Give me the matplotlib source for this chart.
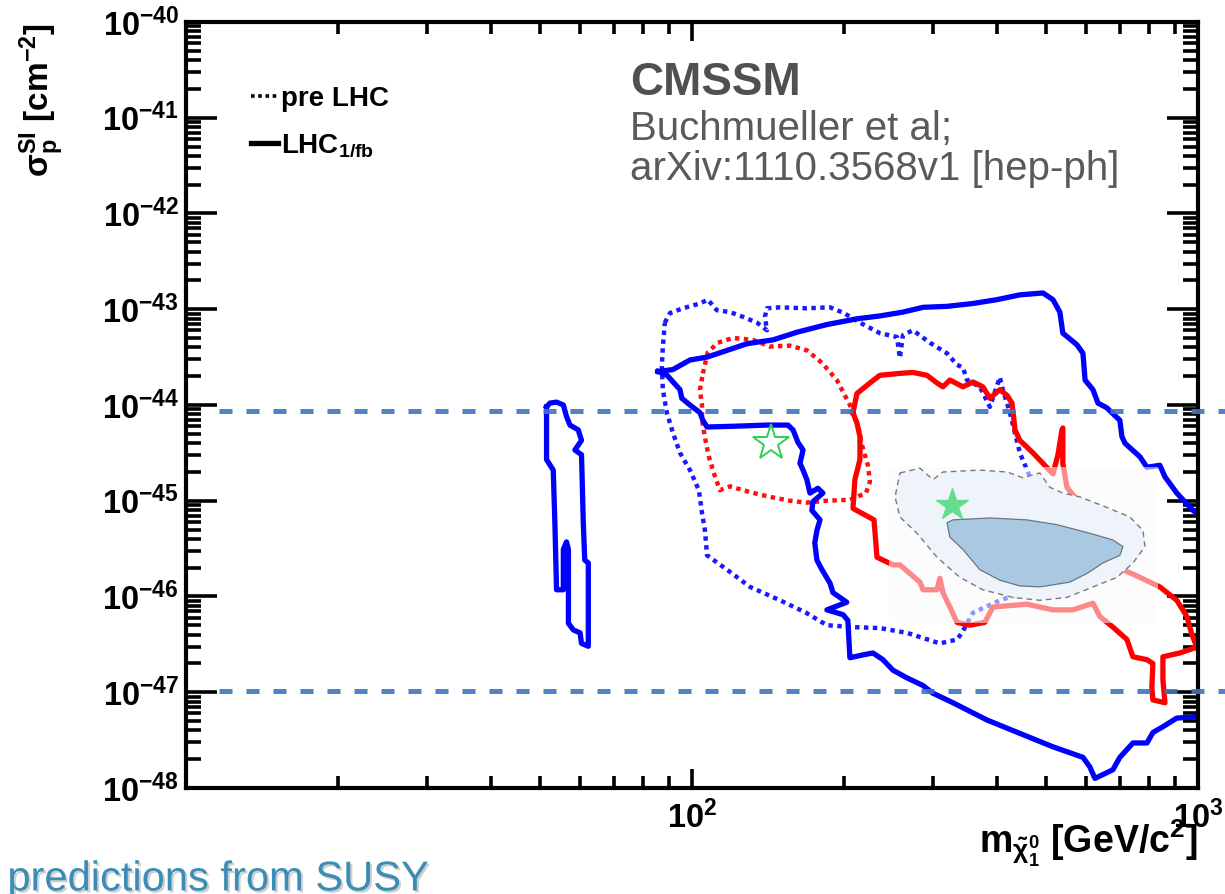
import numpy as np
import matplotlib
matplotlib.use('Agg')
import matplotlib.pyplot as plt
import matplotlib.patheffects as pe
from matplotlib.lines import Line2D
from matplotlib.ticker import LogLocator, NullFormatter, FixedLocator


plt.rcParams['font.family'] = 'Liberation Sans'
plt.rcParams['mathtext.fontset'] = 'custom'
plt.rcParams['mathtext.rm'] = 'Liberation Sans'
plt.rcParams['mathtext.it'] = 'Liberation Sans:italic'
plt.rcParams['mathtext.bf'] = 'Liberation Sans:bold'
plt.rcParams['mathtext.default'] = 'bf'

# contours: (neutralino mass [GeV], log10 sigma_SI [cm^2])
LHC_BLUE = [
    (85.7, -43.65), (91.7, -43.63), (99.1, -43.53), (107.1, -43.50), (117.3, -43.43),
    (128.5, -43.36), (144.6, -43.32), (161.3, -43.24), (184.8, -43.16), (211.8, -43.10),
    (235.2, -43.07), (261.2, -43.03), (286.2, -42.98), (319.2, -42.97), (359.2, -42.94),
    (400.6, -42.90), (444.7, -42.85), (494.0, -42.83), (517.0, -42.90), (533.5, -43.03),
    (540.8, -43.25), (576.4, -43.37), (592.6, -43.46), (598.4, -43.74), (620.2, -43.84),
    (634.5, -43.98), (660.7, -44.03), (701.0, -44.16), (707.6, -44.33), (717.5, -44.40),
    (767.8, -44.54), (792.7, -44.65), (840.9, -44.63), (860.7, -44.75), (908.3, -44.92),
    (977.2, -45.10), (1100.0, -45.31), (1100.0, -47.21), (977.0, -47.26), (908.0, -47.27),
    (853.0, -47.36), (815.0, -47.42), (793.0, -47.53), (744.0, -47.53), (701.0, -47.68),
    (679.0, -47.81), (625.8, -47.90), (611.5, -47.78), (592.6, -47.68), (517.0, -47.57),
    (444.7, -47.43), (382.9, -47.29), (328.0, -47.11), (299.3, -47.01), (286.2, -46.93),
    (266.0, -46.85), (249.6, -46.77), (238.5, -46.66), (227.9, -46.59), (217.8, -46.61),
    (205.2, -46.64), (203.3, -46.25), (198.9, -46.19), (184.8, -46.14), (202.3, -46.06),
    (190.0, -45.96), (187.4, -45.86), (180.7, -45.72), (176.6, -45.62), (174.9, -45.44),
    (176.6, -45.31), (179.1, -45.20), (172.6, -45.10), (173.4, -45.01), (181.5, -44.92),
    (177.4, -44.87), (171.1, -44.92), (168.7, -44.78), (165.8, -44.68), (163.5, -44.61),
    (165.8, -44.47), (162.0, -44.39), (158.4, -44.26), (154.8, -44.21), (140.7, -44.21),
    (124.4, -44.22), (107.1, -44.23), (105.1, -44.16), (103.7, -44.08), (99.1, -44.00),
    (95.5, -43.93), (94.7, -43.84), (89.3, -43.69),
]

LHC_BLUE_LIGHT = [
    (51.6, -44.02), (51.6, -44.57), (53.2, -44.68), (53.6, -45.24), (54.0, -45.93),
    (55.7, -45.93), (55.7, -45.51), (56.5, -45.43), (57.0, -45.51), (57.0, -46.28),
    (58.3, -46.35), (60.1, -46.38), (60.5, -46.49), (62.4, -46.52), (62.4, -45.65),
    (61.4, -45.62), (61.0, -45.24), (60.5, -44.52), (58.7, -44.47), (60.5, -44.37),
    (59.6, -44.26), (57.4, -44.21), (56.5, -44.12), (55.7, -44.00), (54.0, -43.97),
    (52.4, -43.98),
]

PRE_LHC_BLUE = [
    (88.4, -43.14), (90.5, -43.04), (96.0, -42.99), (103.7, -42.94), (107.5, -42.90),
    (112.0, -43.01), (118.9, -43.03), (126.2, -43.08), (134.4, -43.14), (140.7, -43.22),
    (139.4, -43.08), (140.7, -42.99), (149.3, -42.98), (168.1, -42.99), (187.4, -42.98),
    (199.7, -43.04), (214.8, -43.14), (235.2, -43.25), (254.2, -43.29), (257.6, -43.51),
    (261.2, -43.27), (273.4, -43.22), (295.3, -43.35), (319.2, -43.46), (334.0, -43.58),
    (343.3, -43.61), (349.6, -43.74), (370.7, -43.81), (388.0, -44.02), (406.0, -43.71),
    (411.6, -43.84), (425.0, -44.08), (444.7, -44.50), (465.4, -44.75), (487.0, -44.99),
    (509.8, -45.20), (526.3, -45.41), (533.5, -45.62), (533.5, -45.80), (503.0, -45.90),
    (459.2, -45.95), (406.0, -46.04), (359.2, -46.17), (341.7, -46.38), (334.0, -46.45),
    (309.0, -46.49), (266.0, -46.38), (235.2, -46.33), (208.1, -46.32), (184.8, -46.30),
    (168.1, -46.17), (149.3, -46.04), (130.2, -45.90), (117.3, -45.72), (107.1, -45.57),
    (106.1, -45.31), (104.7, -45.13), (103.2, -44.89), (99.1, -44.68), (94.7, -44.50),
    (91.7, -44.29), (89.2, -44.08), (87.6, -43.84), (87.2, -43.60), (87.6, -43.39),
]

PRE_LHC_RED = [
    (105.1, -43.67), (107.5, -43.45), (112.5, -43.35), (120.5, -43.30), (132.0, -43.32),
    (142.6, -43.39), (156.2, -43.38), (168.8, -43.43), (180.7, -43.56), (193.4, -43.74),
    (205.2, -44.00), (212.8, -44.21), (216.8, -44.42), (222.7, -44.63), (224.8, -44.80),
    (220.8, -44.92), (205.2, -44.99), (184.8, -45.00), (168.1, -45.02), (156.2, -45.00),
    (142.6, -44.96), (130.2, -44.91), (118.9, -44.85), (113.6, -44.89), (111.1, -44.75),
    (108.0, -44.54), (106.1, -44.34), (104.7, -44.16), (104.7, -44.00), (103.7, -43.84),
]

LHC_RED = [
    (208.1, -44.08), (211.9, -43.88), (224.8, -43.77), (235.2, -43.69), (257.6, -43.67),
    (273.4, -43.66), (291.4, -43.69), (305.0, -43.77), (313.4, -43.81), (323.4, -43.74),
    (343.3, -43.81), (359.2, -43.76), (375.8, -43.81), (388.0, -43.93), (406.0, -43.84),
    (419.5, -43.90), (429.1, -43.98), (435.0, -44.26), (444.7, -44.37), (472.0, -44.50),
    (494.0, -44.61), (517.0, -44.72), (528.9, -44.52), (538.6, -44.26), (540.8, -44.24),
    (540.8, -44.61), (551.0, -44.86), (576.8, -44.99), (603.5, -45.15), (631.6, -45.34),
    (649.0, -45.51), (669.8, -45.65), (711.0, -45.72), (767.8, -45.80), (840.9, -45.90),
    (908.3, -46.04), (951.2, -46.21), (973.2, -46.40), (995.4, -46.53), (921.1, -46.59),
    (852.7, -46.63), (852.7, -46.87), (860.7, -47.11), (814.7, -47.08), (810.9, -46.95),
    (814.7, -46.70), (793.0, -46.66), (743.9, -46.63), (724.0, -46.45), (679.2, -46.32),
    (640.0, -46.21), (620.2, -46.07), (566.2, -46.14), (517.0, -46.14), (459.2, -46.08),
    (393.5, -46.11), (379.3, -46.27), (354.2, -46.30), (334.0, -46.27), (323.4, -46.11),
    (313.4, -45.96), (309.0, -45.81), (305.0, -45.93), (286.2, -45.93), (282.2, -45.85),
    (257.6, -45.67), (249.6, -45.67), (232.1, -45.59), (229.0, -45.20), (208.1, -45.08),
    (209.9, -44.78), (214.8, -44.57), (214.8, -44.33), (211.9, -44.19),
]

# inset fit regions (95% and 68%)
INSET_95 = [
    (257.6, -44.71), (282.2, -44.66), (299.5, -44.78), (313.4, -44.70), (370.7, -44.68),
    (419.5, -44.70), (451.0, -44.76), (487.0, -44.71), (509.8, -44.86), (540.8, -44.92),
    (584.3, -44.96), (661.0, -45.07), (733.6, -45.17), (778.6, -45.31), (785.8, -45.48),
    (743.9, -45.65), (691.9, -45.80), (620.2, -45.90), (551.0, -46.01), (487.0, -46.04),
    (430.9, -46.01), (375.8, -45.93), (338.4, -45.80), (305.0, -45.59), (278.5, -45.34),
    (257.6, -45.17), (252.0, -44.96),
]

INSET_68 = [
    (319.2, -45.23), (328.0, -45.20), (388.0, -45.18), (459.2, -45.20), (526.3, -45.25),
    (611.5, -45.34), (679.2, -45.41), (711.0, -45.48), (701.0, -45.57), (649.0, -45.65),
    (603.5, -45.76), (558.3, -45.85), (487.0, -45.90), (444.7, -45.89), (406.0, -45.83),
    (370.7, -45.72), (343.3, -45.51), (323.4, -45.38),
]

INSET_MASS = (245.0, 834.0)
INSET_LOGSIG = (-46.28, -44.65)

BEST_FIT_OPEN = (143.0, -44.40)
BEST_FIT_FILLED = (326.0, -45.04)

LIMIT_LOGSIG = [-44.06, -46.99]

Y_TICK_EXP = list(range(-48, -39))
X_TICKS = [10, 100, 1000]
X_TICK_LABELS = ['', r'$10^{2}$', r'$10^{3}$']


def closed(points):
    arr = np.array(points + [points[0]])
    return arr[:, 0], 10.0 ** arr[:, 1]


fig = plt.figure(figsize=(12.25, 8.94), dpi=100)
ax = fig.add_axes([0.1518, 0.1186, 0.8261, 0.8568])
ax.set_xscale('log')
ax.set_yscale('log')
ax.set_xlim(10, 1000)
ax.set_ylim(1e-48, 1e-40)

dotted = (0, (1.0, 1.0))
x, y = closed(PRE_LHC_BLUE)
ax.plot(x, y, color='#1a1aff', lw=3.2, ls=dotted, zorder=2)
x, y = closed(PRE_LHC_RED)
ax.plot(x, y, color='#ff1010', lw=3.2, ls=dotted, zorder=2)
x, y = closed(LHC_BLUE)
ax.plot(x, y, color='#0000ff', lw=3.8, solid_joinstyle='round', zorder=2)
x, y = closed(LHC_BLUE_LIGHT)
ax.plot(x, y, color='#0000ff', lw=3.8, solid_joinstyle='round', zorder=2)
x, y = closed(LHC_RED)
ax.plot(x, y, color='#ff0000', lw=3.8, solid_joinstyle='round', zorder=2)

ax.plot(BEST_FIT_OPEN[0], 10 ** BEST_FIT_OPEN[1], marker='*', ms=27,
        mfc='none', mec='#2ccf55', mew=1.4, zorder=3)

# pasted inset with the later fit
m0, m1 = INSET_MASS
s0, s1 = INSET_LOGSIG
ax.fill([m0, m1, m1, m0], [10 ** s0, 10 ** s0, 10 ** s1, 10 ** s1],
        facecolor='#fafafa', alpha=0.55, edgecolor='none', zorder=4)
x, y = closed(INSET_95)
ax.fill(x, y, facecolor='#eef4fa', edgecolor='#7a7a7a', lw=1.0,
        ls=(0, (4, 3)), zorder=5)
x, y = closed(INSET_68)
ax.fill(x, y, facecolor='#a9c9e2', edgecolor='#6b7680', lw=0.9, zorder=6)
ax.plot(BEST_FIT_FILLED[0], 10 ** BEST_FIT_FILLED[1], marker='*', ms=24,
        mfc='#66dc8c', mec='#66dc8c', zorder=7)

for v in LIMIT_LOGSIG:
    ax.axhline(10 ** v, xmin=0.033, xmax=1.03, color='#3d74c0', alpha=0.9,
               lw=3.6, ls=(0, (2.6, 2.8)), clip_on=False, zorder=8)

# axes frame and ticks
for sp in ax.spines.values():
    sp.set_linewidth(3.0)
ax.yaxis.set_major_locator(FixedLocator([10.0 ** e for e in Y_TICK_EXP]))
ax.set_yticklabels([rf'$10^{{{e}}}$' for e in Y_TICK_EXP])
ax.yaxis.set_minor_locator(LogLocator(base=10, subs=np.arange(2, 10) * 1.0, numticks=100))
ax.yaxis.set_minor_formatter(NullFormatter())
ax.xaxis.set_major_locator(FixedLocator(X_TICKS))
ax.set_xticklabels(X_TICK_LABELS)
ax.xaxis.set_minor_locator(LogLocator(base=10, subs=np.arange(2, 10) * 1.0, numticks=100))
ax.xaxis.set_minor_formatter(NullFormatter())
ax.tick_params(which='both', direction='in', top=True, right=True, width=2.6,
               labelsize=23.5)
ax.tick_params(axis='y', pad=5)
ax.tick_params(axis='x', pad=9)
ax.tick_params(axis='y', which='major', length=22)
ax.tick_params(axis='y', which='minor', length=11)
ax.tick_params(axis='x', which='major', length=14)
ax.tick_params(axis='x', which='minor', length=8.5)

fig.text(0.034, 0.974, r'$σ_{p}^{SI}$ [cm$^{-2}$]', rotation=90, ha='center', va='top',
         fontsize=24, fontweight='bold')
fig.text(0.978, 0.046, r'$m_{\tilde{\chi}^{0}_{1}}$ [GeV/c$^{2}$]', ha='right',
         va='baseline', fontsize=27, fontweight='bold')

handles = [Line2D([], [], color='black', lw=2.6, ls=dotted),
           Line2D([], [], color='black', lw=3.8)]
ax.legend(handles, ['pre LHC', r'LHC$_{1/fb}$'], loc='upper left',
          bbox_to_anchor=(0.064, 0.917), borderaxespad=0, borderpad=0,
          frameon=False, handlelength=1.0, handletextpad=0.1, labelspacing=0.75,
          prop={'weight': 'bold', 'size': 20})

ax.text(0.4387, 0.9047, 'CMSSM', transform=ax.transAxes, fontsize=33,
        fontweight='bold', color='#505050', va='baseline')
ax.text(0.4387, 0.846, 'Buchmueller et al;', transform=ax.transAxes, fontsize=29,
        color='#5a5a5a', va='baseline')
ax.text(0.4387, 0.794, 'arXiv:1110.3568v1 [hep-ph]', transform=ax.transAxes,
        fontsize=29, color='#5a5a5a', va='baseline')

fig.text(0.006, 0.004, 'predictions from SUSY', fontsize=30, color='#3a8db5',
         va='baseline',
         path_effects=[pe.withSimplePatchShadow(offset=(1.5, -1.5),
                                                shadow_rgbFace='#888888', alpha=0.4)])

fig.savefig('out.png', dpi=100)
